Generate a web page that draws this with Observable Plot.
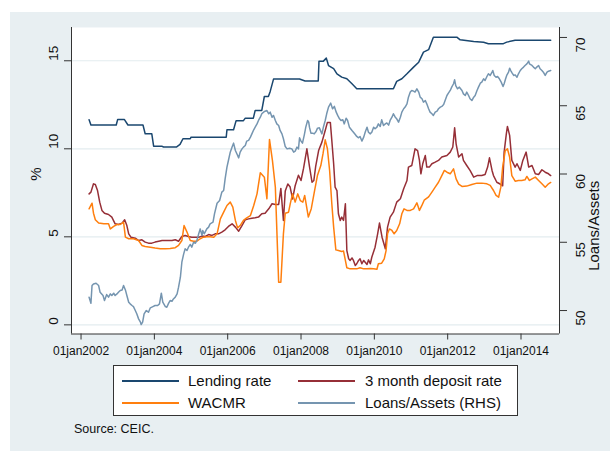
<!DOCTYPE html>
<html><head><meta charset="utf-8">
<script src="https://cdn.jsdelivr.net/npm/d3@7"></script>
<script src="https://cdn.jsdelivr.net/npm/@observablehq/plot@0.6"></script>
<style>
body{margin:0;background:#fff;width:610px;height:451px;position:relative;overflow:hidden;font-family:"Liberation Sans",Arial,sans-serif}
#panel{position:absolute;left:10px;top:12px;width:600px;height:439px;background:#e8eff2}
#chart{position:absolute;left:0;top:0}
#legend{position:absolute;left:113px;top:365px;width:405px;height:51px;background:#fff;border:1px solid #333;box-sizing:border-box}
.item{position:absolute;font-size:15px;line-height:16px;color:#111;white-space:nowrap}
.sw{position:absolute;height:2px}
#source{position:absolute;left:74px;top:422px;font-size:12.5px;color:#111}
</style></head><body>
<div id="panel"></div><div id="chart"></div><div id="legend"></div><div id="source">Source: CEIC.</div>
<script>
// ---- data (decimal year, value) ----
const lendingRate = [[2002.22,11.65],[2002.27,11.35],[2002.96,11.35],[2003.00,11.67],[2003.18,11.67],[2003.28,11.35],[2003.69,11.35],[2003.75,10.85],[2003.93,10.85],[2003.98,10.15],[2004.20,10.15],[2004.25,10.1],[2004.60,10.1],[2004.70,10.25],[2004.78,10.57],[2004.98,10.57],[2005.00,10.66],[2005.96,10.66],[2005.98,11.08],[2006.16,11.08],[2006.23,11.6],[2006.43,11.6],[2006.48,11.74],[2006.70,11.74],[2006.75,12.18],[2006.93,12.18],[2007.00,12.97],[2007.11,12.97],[2007.16,13.26],[2007.25,13.96],[2007.96,13.96],[2008.11,13.85],[2008.47,13.85],[2008.49,14.98],[2008.61,14.98],[2008.69,15.15],[2008.75,14.73],[2008.89,14.55],[2008.98,14.26],[2009.11,14.07],[2009.25,13.98],[2009.39,13.69],[2009.52,13.41],[2010.52,13.41],[2010.61,13.83],[2010.75,13.98],[2010.89,14.26],[2011.07,14.64],[2011.21,14.92],[2011.34,15.49],[2011.48,15.63],[2011.61,16.34],[2012.25,16.34],[2012.34,16.19],[2012.71,16.1],[2012.98,16.05],[2013.11,15.97],[2013.52,15.97],[2013.61,16.06],[2013.84,16.16],[2014.81,16.16]];
const depositRate = [[2002.22,7.44],[2002.27,7.54],[2002.34,8.01],[2002.39,7.97],[2002.45,7.63],[2002.51,6.97],[2002.57,6.5],[2002.64,6.34],[2002.75,6.27],[2002.84,6.12],[2002.93,5.74],[2003.02,5.7],[2003.12,5.78],[2003.19,5.97],[2003.25,5.64],[2003.30,5.17],[2003.36,4.98],[2003.48,4.92],[2003.57,4.79],[2003.66,4.83],[2003.75,4.7],[2003.84,4.64],[2003.93,4.64],[2004.02,4.7],[2004.12,4.75],[2004.21,4.79],[2004.34,4.79],[2004.48,4.79],[2004.57,4.83],[2004.66,4.75],[2004.75,5.02],[2004.84,5.08],[2004.93,5.02],[2005.02,4.98],[2005.12,4.98],[2005.21,4.98],[2005.30,5.04],[2005.39,5.02],[2005.48,5.13],[2005.57,5.08],[2005.66,5.17],[2005.75,5.17],[2005.84,5.27],[2005.93,5.4],[2006.02,5.59],[2006.12,5.74],[2006.21,5.55],[2006.30,5.32],[2006.39,5.64],[2006.48,5.97],[2006.57,6.02],[2006.66,6.06],[2006.75,6.08],[2006.84,6.12],[2006.93,6.31],[2007.02,6.34],[2007.12,6.59],[2007.21,6.88],[2007.30,6.84],[2007.39,6.84],[2007.45,7.75],[2007.52,5.93],[2007.57,7.6],[2007.64,8.0],[2007.70,7.85],[2007.77,7.15],[2007.84,7.9],[2007.93,8.5],[2008.00,8.2],[2008.07,8.9],[2008.16,10.0],[2008.23,9.0],[2008.30,8.1],[2008.35,8.2],[2008.40,9.0],[2008.48,9.9],[2008.57,10.38],[2008.66,11.04],[2008.72,11.5],[2008.80,11.5],[2008.84,10.47],[2008.89,9.15],[2008.93,7.82],[2008.98,7.63],[2009.02,6.31],[2009.07,5.93],[2009.11,6.12],[2009.16,5.93],[2009.21,6.88],[2009.25,4.22],[2009.30,3.75],[2009.34,3.66],[2009.39,3.8],[2009.43,3.66],[2009.48,3.37],[2009.52,3.47],[2009.57,3.66],[2009.61,3.75],[2009.66,3.47],[2009.71,3.66],[2009.75,3.56],[2009.80,3.43],[2009.84,3.69],[2009.89,3.47],[2009.93,3.84],[2010.02,4.41],[2010.09,5.17],[2010.14,5.78],[2010.21,4.98],[2010.30,4.32],[2010.36,5.55],[2010.43,6.12],[2010.52,6.4],[2010.61,6.97],[2010.71,7.16],[2010.80,7.73],[2010.89,8.2],[2010.93,8.96],[2011.02,9.05],[2011.11,10.0],[2011.18,9.9],[2011.23,9.34],[2011.27,8.58],[2011.32,9.15],[2011.39,9.62],[2011.43,8.96],[2011.50,8.96],[2011.57,9.15],[2011.66,9.24],[2011.75,9.34],[2011.84,9.53],[2011.98,9.62],[2012.07,9.81],[2012.14,10.1],[2012.19,11.19],[2012.23,10.28],[2012.30,9.53],[2012.39,9.72],[2012.43,9.34],[2012.52,9.05],[2012.61,8.77],[2012.71,8.39],[2012.80,8.48],[2012.93,8.48],[2013.02,8.54],[2013.09,8.96],[2013.14,9.49],[2013.21,8.77],[2013.25,8.48],[2013.34,8.1],[2013.43,8.0],[2013.50,7.9],[2013.54,9.81],[2013.60,10.85],[2013.63,11.27],[2013.69,10.76],[2013.75,9.34],[2013.84,8.96],[2013.89,9.15],[2013.98,8.77],[2014.05,9.34],[2014.14,9.81],[2014.21,8.96],[2014.30,9.05],[2014.39,8.58],[2014.48,8.54],[2014.57,8.81],[2014.66,8.67],[2014.75,8.58],[2014.81,8.48]];
const wacmr = [[2002.22,6.59],[2002.30,6.91],[2002.34,6.34],[2002.39,5.97],[2002.48,5.78],[2002.62,5.74],[2002.75,5.74],[2002.80,5.45],[2002.89,5.59],[2002.98,5.7],[2003.07,5.7],[2003.16,5.83],[2003.21,4.98],[2003.30,4.89],[2003.43,4.89],[2003.57,4.79],[2003.66,4.51],[2003.75,4.45],[2003.89,4.41],[2004.02,4.36],[2004.16,4.32],[2004.30,4.32],[2004.43,4.34],[2004.57,4.38],[2004.66,4.51],[2004.75,4.79],[2004.81,5.64],[2004.89,5.27],[2004.98,4.79],[2005.07,4.75],[2005.16,4.75],[2005.25,4.89],[2005.34,4.98],[2005.43,5.0],[2005.52,5.0],[2005.62,4.98],[2005.71,5.17],[2005.80,6.02],[2005.89,6.4],[2005.98,6.78],[2006.07,6.97],[2006.14,6.69],[2006.21,5.93],[2006.27,5.51],[2006.34,5.64],[2006.43,5.93],[2006.52,6.08],[2006.62,6.21],[2006.71,6.78],[2006.80,7.44],[2006.89,8.64],[2007.00,8.39],[2007.07,7.16],[2007.14,10.53],[2007.22,9.34],[2007.30,7.82],[2007.39,2.42],[2007.45,2.42],[2007.52,5.17],[2007.57,6.34],[2007.66,6.4],[2007.71,6.91],[2007.77,7.44],[2007.84,6.97],[2007.91,7.44],[2007.98,7.06],[2008.05,6.97],[2008.10,7.35],[2008.20,6.12],[2008.28,6.6],[2008.37,7.63],[2008.45,8.5],[2008.54,9.05],[2008.60,9.72],[2008.66,10.51],[2008.72,10.0],[2008.78,8.77],[2008.84,6.88],[2008.89,5.55],[2008.95,4.26],[2009.02,4.22],[2009.11,4.17],[2009.16,4.19],[2009.21,3.66],[2009.25,3.24],[2009.34,3.18],[2009.43,3.18],[2009.52,3.18],[2009.61,3.24],[2009.71,3.18],[2009.80,3.18],[2009.89,3.2],[2009.98,3.18],[2010.07,3.16],[2010.11,3.47],[2010.20,3.5],[2010.27,3.75],[2010.32,4.22],[2010.36,5.17],[2010.41,5.45],[2010.48,5.36],[2010.54,5.17],[2010.61,5.36],[2010.69,5.74],[2010.75,6.31],[2010.81,6.59],[2010.89,6.5],[2010.98,6.5],[2011.07,6.59],[2011.16,6.93],[2011.23,6.5],[2011.30,6.8],[2011.36,7.08],[2011.48,7.27],[2011.57,7.54],[2011.66,7.82],[2011.75,8.1],[2011.84,8.48],[2011.91,8.77],[2011.98,8.67],[2012.07,8.58],[2012.16,8.86],[2012.23,8.29],[2012.30,7.99],[2012.39,7.86],[2012.52,7.88],[2012.66,7.97],[2012.80,8.05],[2012.93,8.05],[2013.07,8.01],[2013.16,7.92],[2013.25,7.63],[2013.32,7.35],[2013.39,7.25],[2013.45,7.82],[2013.50,8.96],[2013.57,9.9],[2013.63,10.0],[2013.69,9.53],[2013.75,8.48],[2013.84,8.16],[2013.93,8.2],[2014.02,8.2],[2014.11,8.24],[2014.16,8.43],[2014.23,8.2],[2014.30,8.29],[2014.39,8.39],[2014.48,8.2],[2014.57,8.01],[2014.66,7.82],[2014.75,8.01],[2014.81,8.09]];
const loansAssets = [[2002.22,50.98],[2002.27,50.54],[2002.30,51.83],[2002.34,51.95],[2002.41,52.0],[2002.48,51.83],[2002.52,51.34],[2002.60,51.1],[2002.64,50.73],[2002.70,51.17],[2002.75,50.98],[2002.80,51.22],[2002.84,51.1],[2002.89,51.27],[2002.93,51.1],[2002.98,51.22],[2003.02,51.34],[2003.07,51.47],[2003.12,51.51],[2003.16,51.83],[2003.21,51.51],[2003.25,51.1],[2003.30,50.61],[2003.34,50.49],[2003.39,50.37],[2003.43,50.29],[2003.48,50.0],[2003.52,49.76],[2003.57,49.39],[2003.62,49.15],[2003.64,48.97],[2003.68,49.15],[2003.72,49.76],[2003.78,50.0],[2003.84,49.88],[2003.89,50.2],[2003.96,50.29],[2004.02,50.37],[2004.09,50.37],[2004.14,50.49],[2004.19,51.27],[2004.23,50.61],[2004.30,50.29],[2004.34,50.24],[2004.39,50.54],[2004.43,50.73],[2004.48,50.68],[2004.52,50.85],[2004.57,50.98],[2004.62,51.22],[2004.66,51.71],[2004.71,52.44],[2004.75,53.54],[2004.80,54.15],[2004.84,54.52],[2004.89,54.4],[2004.93,54.64],[2004.98,54.84],[2005.02,54.64],[2005.07,55.0],[2005.12,54.93],[2005.16,55.13],[2005.21,55.62],[2005.25,55.98],[2005.30,55.5],[2005.32,55.86],[2005.36,55.62],[2005.43,55.98],[2005.48,56.11],[2005.52,56.35],[2005.60,56.47],[2005.64,57.08],[2005.71,57.86],[2005.78,58.06],[2005.84,58.67],[2005.89,58.79],[2005.93,59.65],[2005.98,60.5],[2006.02,60.99],[2006.07,61.6],[2006.12,61.97],[2006.16,62.26],[2006.21,61.72],[2006.25,61.48],[2006.30,61.18],[2006.34,61.6],[2006.39,61.84],[2006.43,61.97],[2006.48,62.09],[2006.52,62.41],[2006.57,62.46],[2006.62,62.7],[2006.66,62.94],[2006.71,63.24],[2006.75,63.43],[2006.80,63.67],[2006.84,63.92],[2006.89,64.16],[2006.93,64.41],[2006.98,64.53],[2007.02,64.6],[2007.07,64.65],[2007.12,64.41],[2007.16,64.53],[2007.21,64.16],[2007.25,64.29],[2007.30,63.92],[2007.34,63.67],[2007.39,63.55],[2007.43,63.19],[2007.48,62.94],[2007.52,62.58],[2007.57,62.01],[2007.62,61.84],[2007.69,61.89],[2007.75,61.84],[2007.80,61.6],[2007.84,61.67],[2007.89,61.97],[2007.93,61.84],[2007.96,62.65],[2008.00,62.41],[2008.04,62.26],[2008.09,62.87],[2008.13,63.43],[2008.18,63.92],[2008.21,63.8],[2008.23,63.43],[2008.27,62.99],[2008.32,62.99],[2008.36,62.94],[2008.41,63.11],[2008.45,63.36],[2008.50,63.38],[2008.57,62.94],[2008.61,63.43],[2008.66,63.92],[2008.70,64.41],[2008.75,64.9],[2008.81,65.19],[2008.86,64.78],[2008.91,64.95],[2008.96,64.53],[2009.00,64.29],[2009.05,64.04],[2009.09,63.92],[2009.14,63.97],[2009.18,63.67],[2009.23,64.09],[2009.27,63.92],[2009.32,63.43],[2009.39,63.19],[2009.43,63.06],[2009.48,62.89],[2009.52,62.75],[2009.57,62.65],[2009.61,62.75],[2009.66,62.41],[2009.71,62.7],[2009.75,63.06],[2009.80,63.43],[2009.84,63.06],[2009.89,62.94],[2009.93,63.06],[2009.98,63.43],[2010.02,63.31],[2010.07,63.43],[2010.11,63.67],[2010.16,63.48],[2010.20,63.97],[2010.25,63.55],[2010.30,63.67],[2010.34,63.74],[2010.39,63.58],[2010.43,63.92],[2010.48,64.16],[2010.52,64.41],[2010.57,64.16],[2010.61,64.04],[2010.66,63.8],[2010.71,64.16],[2010.75,64.53],[2010.80,64.78],[2010.84,64.9],[2010.89,65.14],[2010.93,65.63],[2010.98,66.0],[2011.02,66.12],[2011.07,66.07],[2011.11,66.0],[2011.16,66.24],[2011.21,66.0],[2011.25,65.63],[2011.30,65.51],[2011.34,65.26],[2011.39,65.38],[2011.43,65.14],[2011.48,64.78],[2011.52,64.53],[2011.57,64.41],[2011.61,64.29],[2011.66,64.53],[2011.71,64.61],[2011.75,64.78],[2011.80,64.9],[2011.84,64.95],[2011.89,65.09],[2011.93,65.38],[2011.98,65.75],[2012.02,65.92],[2012.07,66.12],[2012.11,66.36],[2012.16,66.61],[2012.19,66.9],[2012.22,66.48],[2012.27,66.24],[2012.32,66.36],[2012.39,66.12],[2012.43,65.87],[2012.48,65.75],[2012.52,66.0],[2012.57,65.75],[2012.61,65.51],[2012.66,65.38],[2012.71,65.63],[2012.75,65.75],[2012.80,66.12],[2012.84,66.36],[2012.89,66.65],[2012.93,66.73],[2012.98,66.97],[2013.02,66.85],[2013.07,67.14],[2013.11,67.34],[2013.16,67.22],[2013.21,67.46],[2013.23,67.58],[2013.27,67.22],[2013.32,67.09],[2013.36,67.14],[2013.41,66.97],[2013.46,66.73],[2013.51,66.41],[2013.54,66.61],[2013.58,66.97],[2013.61,67.22],[2013.66,67.46],[2013.69,67.75],[2013.72,67.58],[2013.76,67.39],[2013.80,67.22],[2013.84,67.26],[2013.89,67.09],[2013.93,67.34],[2013.98,67.58],[2014.02,67.71],[2014.07,67.83],[2014.11,67.95],[2014.16,68.07],[2014.21,68.27],[2014.23,68.07],[2014.30,67.95],[2014.34,67.83],[2014.39,67.71],[2014.43,67.83],[2014.48,67.95],[2014.52,67.71],[2014.57,67.58],[2014.61,67.46],[2014.66,67.22],[2014.71,67.46],[2014.75,67.53],[2014.81,67.58]];

const seriesNames = ["Lending rate", "3 month deposit rate", "WACMR", "Loans/Assets (RHS)"];
const seriesColors = ["#1a476f", "#962f37", "#ff7f0e", "#7595b0"];
const xTicks = [2002, 2004, 2006, 2008, 2010, 2012, 2014];
const leftTicks = [0, 5, 10, 15];
const rhsTicks = [50, 55, 60, 65, 70];

// ---- scales ----
const X_DOMAIN = [2001.74, 2015.05];
const Y_DOMAIN = [-0.52, 16.89];
// right axis (Loans/Assets) mapped onto the left % scale
const rhsToLeft = r => 0.8125 + 0.77557 * (r - 50);

const toRows = (arr, i) => arr.map(([t, v]) => ({t, v, s: i}));
const seriesData = [lendingRate, depositRate, wacmr, loansAssets];

const font = '"Liberation Sans", Arial, sans-serif';
const axisColor = "#333";
const gridColor = "#e3ecef";

const marks = [
  Plot.frame({fill: "white", stroke: "none"}),
  Plot.ruleY(leftTicks, {stroke: gridColor, strokeWidth: 1.2})
];
seriesData.forEach((arr, i) => {
  marks.push(Plot.line(toRows(arr, i), {
    x: "t",
    y: i === 3 ? d => rhsToLeft(d.v) : "v",
    stroke: seriesColors[i],
    strokeWidth: 1.5
  }));
});
marks.push(
  Plot.ruleX([X_DOMAIN[0]], {stroke: axisColor}),
  Plot.ruleX([X_DOMAIN[1]], {stroke: axisColor}),
  Plot.ruleY([Y_DOMAIN[0]], {stroke: axisColor}),
  Plot.axisX(xTicks, {tickSize: 6, tickPadding: 6, tickFormat: d => "01jan" + d, fontSize: 12, label: null, stroke: axisColor, fill: "#111"}),
  Plot.axisY(leftTicks, {anchor: "left", tickSize: 7, tickFormat: () => "", label: null, stroke: axisColor}),
  Plot.axisY(rhsTicks.map(rhsToLeft), {anchor: "right", tickSize: 7, tickFormat: () => "", label: null, stroke: axisColor}),
  Plot.text(leftTicks, {y: d => d, text: d => String(d), frameAnchor: "left", dx: -18, rotate: -90, fontSize: 13.5, fill: "#111"}),
  Plot.text(rhsTicks, {y: rhsToLeft, text: d => String(d), frameAnchor: "right", dx: 21, rotate: -90, fontSize: 13.5, fill: "#111"}),
  Plot.text(["%"], {text: d => d, frameAnchor: "left", dx: -35, rotate: -90, fontSize: 15, fill: "#111"}),
  Plot.text(["Loans/Assets"], {text: d => d, frameAnchor: "right", dx: 35, rotate: -90, fontSize: 15, fill: "#111"})
);

const chart = Plot.plot({
  width: 610,
  height: 365,
  marginLeft: 71,
  marginRight: 51,
  marginTop: 27,
  marginBottom: 31.5,
  x: {domain: X_DOMAIN},
  y: {domain: Y_DOMAIN},
  style: {background: "transparent", fontFamily: font, overflow: "visible"},
  marks
});
document.getElementById("chart").appendChild(chart);

// ---- legend ----
const legend = document.getElementById("legend");
const legendCols = [{sw: 7.5, tx: 74}, {sw: 184, tx: 251}];
const legendRows = [15, 37];
seriesNames.forEach((name, i) => {
  const col = legendCols[i % 2], row = legendRows[Math.floor(i / 2)];
  const sw = document.createElement("div");
  sw.className = "sw";
  sw.style.cssText = `left:${col.sw}px;top:${row - 1}px;width:57px;background:${seriesColors[i]}`;
  legend.appendChild(sw);
  const tx = document.createElement("div");
  tx.className = "item";
  tx.style.cssText = `left:${col.tx}px;top:${row - 8.5}px`;
  tx.textContent = name;
  legend.appendChild(tx);
});
</script></body></html>
